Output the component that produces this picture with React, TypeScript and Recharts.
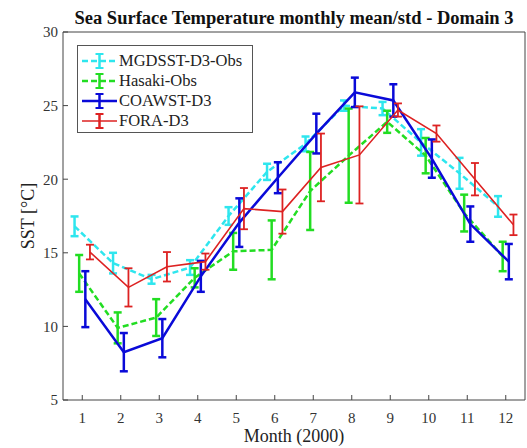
import { LineChart, Line, XAxis, YAxis, ErrorBar, Label } from "recharts";

// month axis
const months = [1, 2, 3, 4, 5, 6, 7, 8, 9, 10, 11, 12];
const yTicks = [5, 10, 15, 20, 25, 30];

// monthly mean / std
const mgdMean = [16.8, 14.3, 13.2, 14.0, 17.5, 20.5, 22.4, 25.0, 24.8, 22.5, 20.4, 18.15];
const mgdStd = [0.67, 0.7, 0.3, 0.5, 0.6, 0.55, 0.5, 0.35, 0.45, 0.9, 1.05, 0.7];

const hasakiMean = [13.6, 9.9, 10.6, 13.3, 15.1, 15.2, 19.2, 21.6, 23.9, 21.6, 17.7, 14.75];
const hasakiStd = [1.25, 1.05, 1.25, 0.65, 1.25, 2.0, 2.65, 3.2, 0.75, 1.2, 1.25, 1.0];

const coawstMean = [11.85, 8.25, 9.2, 13.4, 17.05, 20.1, 23.1, 25.9, 25.35, 21.4, 16.95, 14.4];
const coawstStd = [1.9, 1.3, 1.3, 1.05, 1.65, 1.05, 1.35, 1.0, 1.1, 1.3, 1.2, 1.2];

const foraMean = [15.05, 12.65, 14.05, 14.4, 18.0, 17.8, 20.8, 21.65, 24.7, 23.1, 20.0, 16.9];
const foraStd = [0.5, 1.3, 1.0, 0.55, 1.4, 1.5, 2.3, 3.3, 0.45, 0.55, 1.1, 0.7];

const FONT = '"Liberation Serif", "Times New Roman", serif';
const AXIS = "#444";

type Series = {
  name: string;
  mean: number[];
  std: number[];
  color: string;
  dash?: string;
  width: number;
  shift: number; // small x-dodge so the bars don't overlap
};

const series: Series[] = [
  { name: "MGDSST-D3-Obs", mean: mgdMean, std: mgdStd, color: "#2ee6ee", dash: "6 3", width: 2.5, shift: -0.2 },
  { name: "Hasaki-Obs", mean: hasakiMean, std: hasakiStd, color: "#22dd22", dash: "6 3", width: 2.5, shift: -0.08 },
  { name: "COAWST-D3", mean: coawstMean, std: coawstStd, color: "#0a0ad8", width: 2.5, shift: 0.08 },
  { name: "FORA-D3", mean: foraMean, std: foraStd, color: "#dd2222", width: 1.6, shift: 0.2 },
];

function buildData(s: Series) {
  return months.map((m, i) => ({ x: m + s.shift, y: s.mean[i], err: s.std[i] }));
}

function LegendIcon({ s }: { s: Series }) {
  return (
    <svg width={37} height={18} style={{ display: "block" }}>
      <line x1={1} y1={9} x2={36} y2={9} stroke={s.color} strokeWidth={s.width} strokeDasharray={s.dash} />
      <line x1={18.5} y1={2} x2={18.5} y2={16} stroke={s.color} strokeWidth={2.5} />
      <line x1={14.5} y1={2} x2={22.5} y2={2} stroke={s.color} strokeWidth={2} />
      <line x1={14.5} y1={16} x2={22.5} y2={16} stroke={s.color} strokeWidth={2} />
    </svg>
  );
}

export default function App() {
  const tickStyle = { fontFamily: FONT, fontSize: 15, fill: "#333" };

  return (
    <div style={{ position: "absolute", left: 0, top: 0, width: 527, height: 448, background: "#fff" }}>
      <div
        style={{
          position: "absolute",
          left: 63,
          width: 462,
          top: 8,
          textAlign: "center",
          fontFamily: FONT,
          fontWeight: "bold",
          fontSize: 18.5,
          color: "#111",
          whiteSpace: "nowrap",
        }}
      >
        Sea Surface Temperature monthly mean/std - Domain 3
      </div>

      <LineChart width={527} height={448} margin={{ top: 31, right: 1, bottom: 0, left: 0 }}>
        <XAxis
          dataKey="x"
          type="number"
          domain={[0.5, 12.5]}
          ticks={months}
          allowDataOverflow
          height={48}
          tickSize={-5}
          tickMargin={17}
          tick={tickStyle}
          stroke={AXIS}
        >
          <Label
            value="Month (2000)"
            position="insideBottom"
            offset={6}
            style={{ fontFamily: FONT, fontSize: 18, fill: "#222" }}
          />
        </XAxis>
        <XAxis
          xAxisId="top"
          orientation="top"
          type="number"
          domain={[0.5, 12.5]}
          ticks={months}
          height={1}
          tick={false}
          tickSize={-5}
          stroke={AXIS}
        />
        <YAxis
          type="number"
          domain={[5, 30]}
          ticks={yTicks}
          allowDataOverflow
          width={63}
          tickSize={-5}
          tickMargin={10}
          tick={tickStyle}
          stroke={AXIS}
        >
          <Label
            value="SST [°C]"
            angle={-90}
            position="center"
            dx={-4}
            style={{ fontFamily: FONT, fontSize: 18, fill: "#222" }}
          />
        </YAxis>
        <YAxis
          yAxisId="right"
          orientation="right"
          type="number"
          domain={[5, 30]}
          ticks={yTicks}
          width={1}
          tick={false}
          tickSize={-5}
          stroke={AXIS}
        />

        {series.map((s) => (
          <Line
            key={s.name}
            name={s.name}
            data={buildData(s)}
            dataKey="y"
            type="linear"
            stroke={s.color}
            strokeWidth={s.width}
            strokeDasharray={s.dash}
            dot={false}
            activeDot={false}
            isAnimationActive={false}
          >
            <ErrorBar
              dataKey="err"
              direction="y"
              width={4}
              stroke={s.color}
              strokeWidth={s.width > 2 ? 2.5 : 1.8}
              isAnimationActive={false}
            />
          </Line>
        ))}
      </LineChart>

      <div
        style={{
          position: "absolute",
          left: 77,
          top: 45,
          width: 176,
          height: 88,
          border: "1px solid #555",
          background: "#fff",
          boxSizing: "border-box",
          padding: "5px 0 0 3px",
        }}
      >
        {series.map((s) => (
          <div key={s.name} style={{ display: "flex", alignItems: "center", height: 20 }}>
            <LegendIcon s={s} />
            <span style={{ fontFamily: FONT, fontSize: 16.5, color: "#222", marginLeft: 1, whiteSpace: "nowrap" }}>
              {s.name}
            </span>
          </div>
        ))}
      </div>
    </div>
  );
}
